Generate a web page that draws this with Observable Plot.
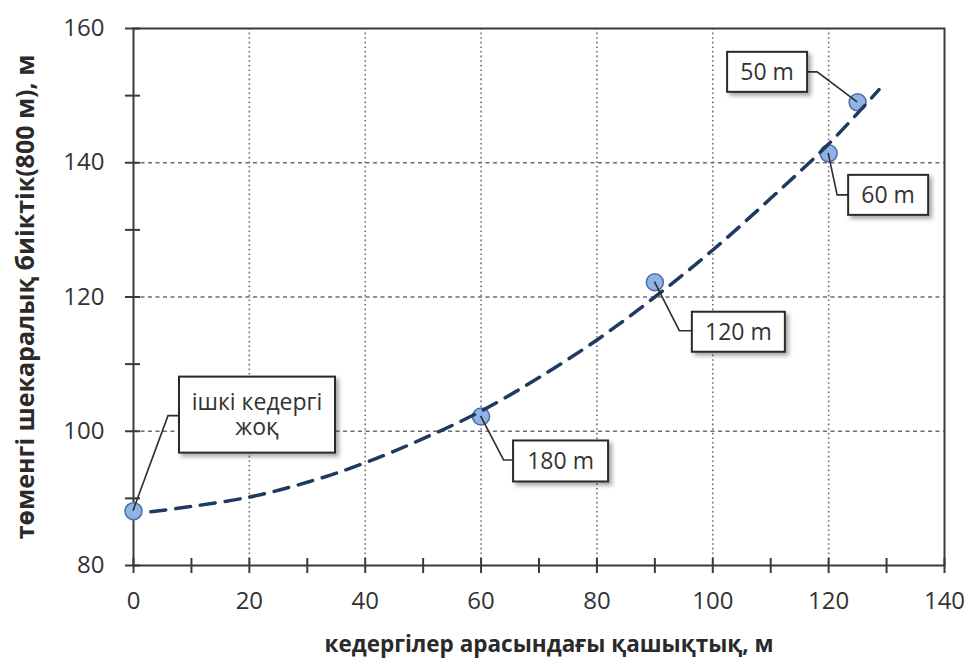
<!DOCTYPE html>
<html>
<head>
<meta charset="utf-8">
<script src="https://cdn.jsdelivr.net/npm/d3@7"></script>
<script src="https://cdn.jsdelivr.net/npm/@observablehq/plot@0.6"></script>
<style>
  html, body { margin: 0; padding: 0; background: #ffffff; }
  #chart { width: 970px; height: 660px; }
</style>
</head>
<body>
<div id="chart"></div>
<script>
// Distance between obstacles (m) and the resulting lower boundary height (800 m), m
const spacing = [0, 60, 90, 120, 125];
const lowerHeight = [88.1, 102.2, 122.2, 141.4, 149.0];
const calloutText = ["ішкі кедергі\nжоқ", "180 m", "120 m", "60 m", "50 m"];

// Dashed trend curve through the measurements
const trendX = [3, 10, 20, 30, 40, 50, 60, 70, 80, 90, 100, 110, 120, 128.7];
const trendY = [88.0, 88.8, 90.2, 92.4, 95.3, 98.9, 103.0, 108.0, 113.6, 120.0, 127.0, 134.7, 142.8, 150.9];

// Axis ticks
const xTicks = [0, 20, 40, 60, 80, 100, 120, 140];
const xMinor = [10, 30, 50, 70, 90, 110, 130];
const yTicks = [80, 100, 120, 140, 160];
const yMinor = [90, 110, 130, 150];
const xGrid = [20, 40, 60, 80, 100, 120];
const yGrid = [100, 120, 140];

const xTitle = "кедергілер арасындағы қашықтық, м";
const yTitle = "төменгі шекаралық биіктік(800 м), м";

// Callout box layout, in pixels relative to each point: box centre, box size, leader elbow
const calloutLayout = [
  {bx: 124, by: -96, w: 156, h: 76, ex: 35, ey: -95},
  {bx: 80, by: 45, w: 95, h: 41, ex: 23, ey: 44},
  {bx: 84, by: 50, w: 93, h: 40, ex: 25, ey: 49},
  {bx: 60, by: 42, w: 80, h: 40, ex: 9, ey: 42},
  {bx: -90, by: -30, w: 80, h: 40, ex: -40, ey: -30}
];

const W = 970, H = 660;
const mL = 133, mR = 26, mT = 28, mB = 95;
const plotW = W - mL - mR, plotH = H - mT - mB;

const points = spacing.map((x, i) => ({x, y: lowerHeight[i], label: calloutText[i]}));
const trend = trendX.map((x, i) => ({x, y: trendY[i]}));

function callouts(index, scales) {
  const g = d3.create("svg:g");
  const defs = g.append("defs");
  const f = defs.append("filter").attr("id", "boxShadow")
    .attr("x", "-20%").attr("y", "-20%").attr("width", "150%").attr("height", "160%");
  f.append("feDropShadow").attr("dx", 3).attr("dy", 3).attr("stdDeviation", 2)
    .attr("flood-color", "#000").attr("flood-opacity", 0.35);
  points.forEach((p, i) => {
    const L = calloutLayout[i];
    const px = scales.x(p.x), py = scales.y(p.y);
    const cx = px + L.bx, cy = py + L.by;
    const ex = px + L.ex, ey = py + L.ey;
    const edge = ex < cx ? cx - L.w / 2 : cx + L.w / 2;
    g.append("path")
      .attr("d", `M${px},${py}L${ex},${ey}L${edge},${ey}`)
      .attr("fill", "none").attr("stroke", "#2e2e2e").attr("stroke-width", 1.6);
    g.append("rect")
      .attr("x", cx - L.w / 2).attr("y", cy - L.h / 2)
      .attr("width", L.w).attr("height", L.h)
      .attr("fill", "#ffffff").attr("stroke", "#2a2a2a").attr("stroke-width", 2)
      .attr("filter", "url(#boxShadow)");
    const lines = p.label.split("\n");
    const lh = 25;
    const t = g.append("text")
      .attr("text-anchor", "middle")
      .attr("font-size", 23).attr("fill", "#333");
    lines.forEach((s, k) => {
      t.append("tspan")
        .attr("x", cx)
        .attr("y", cy + (k - (lines.length - 1) / 2) * lh)
        .attr("dy", "0.35em")
        .text(s);
    });
  });
  return g.node();
}

const chart = Plot.plot({
  width: W,
  height: H,
  marginLeft: mL,
  marginRight: mR,
  marginTop: mT,
  marginBottom: mB,
  style: {fontFamily: "'Open Sans', sans-serif", fontSize: "24px", color: "#333", background: "#ffffff"},
  x: {domain: [0, 140]},
  y: {domain: [80, 160]},
  marks: [
    Plot.ruleX(xGrid, {x: d => d, stroke: "#6e6e6e", strokeWidth: 1.6, strokeDasharray: "1.6,3"}),
    Plot.ruleY(yGrid, {y: d => d, stroke: "#6e6e6e", strokeWidth: 1.3, strokeDasharray: "4,3.5"}),
    Plot.frame({stroke: "#3a3a3a", strokeWidth: 2}),
    Plot.ruleX(xTicks.concat(xMinor), {x: d => d, stroke: "#3a3a3a", strokeWidth: 2, insetTop: plotH - 7, insetBottom: -8}),
    Plot.ruleY(yTicks.concat(yMinor), {y: d => d, stroke: "#3a3a3a", strokeWidth: 2, insetLeft: -8, insetRight: plotW - 7}),
    Plot.axisX(xTicks, {tickSize: 0, tickPadding: 26, label: null, fill: "#333"}),
    Plot.axisY(yTicks, {tickSize: 0, tickPadding: 29, label: null, fill: "#333"}),
    Plot.text([xTitle], {text: d => d, frameAnchor: "bottom", dy: 86, dx: 10, fontWeight: "bold", fontSize: 22.5, fill: "#2a2a2a"}),
    Plot.text([yTitle], {text: d => d, frameAnchor: "left", textAnchor: "middle", dx: -108, rotate: -90, fontWeight: "bold", fontSize: 25, fill: "#2a2a2a"}),
    Plot.dot(points, {x: "x", y: "y", r: 8.5, fill: "#8fb3e6", stroke: "#4d6fa3", strokeWidth: 1.5}),
    Plot.line(trend, {x: "x", y: "y", curve: "catmull-rom", stroke: "#1f3a60", strokeWidth: 3.5, strokeDasharray: "15,10"}),
    callouts
  ]
});

document.getElementById("chart").appendChild(chart);
</script>
</body>
</html>
